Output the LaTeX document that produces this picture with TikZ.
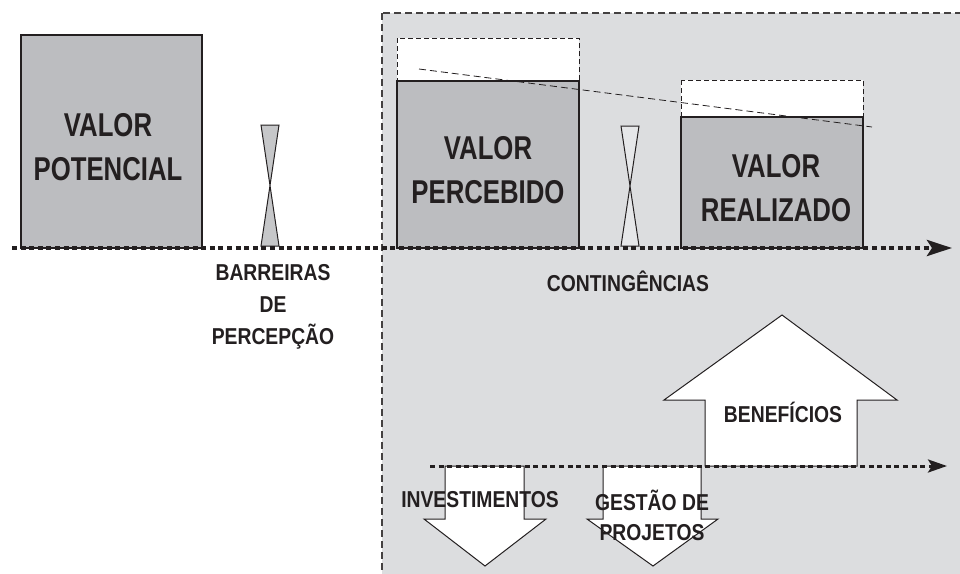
\documentclass[tikz,border=0pt]{standalone}
\usepackage{fontspec}
\setmainfont{Liberation Sans}
\newfontfamily\bigfont[FakeStretch=0.78]{Liberation Sans}
\newfontfamily\lblfont[FakeStretch=0.84]{Liberation Sans}
\usetikzlibrary{arrows.meta,positioning}
\definecolor{inkgray}{HTML}{231F20}
\definecolor{zonegray}{HTML}{DCDDDF}
\definecolor{boxgray}{HTML}{BCBDC0}
\definecolor{barriergray}{HTML}{C6C7C9}

\begin{document}
\begin{tikzpicture}[x=1pt,y=-1pt,
  valuebox/.style={draw=inkgray,line width=1.2pt,fill=boxgray},
  ghostbox/.style={draw=inkgray,line width=1pt,dash pattern=on 5pt off 3pt,fill=white},
  barrier/.style={draw=inkgray,line width=1pt,line join=miter},
  timeline/.style={inkgray,line width=4pt,dash pattern=on 5pt off 3.6pt},
  flowline/.style={inkgray,line width=3pt,dash pattern=on 5pt off 3.6pt},
  bigarrow/.style={draw=inkgray,line width=1pt,fill=white,line join=miter},
  biglabel/.style={font=\bigfont\bfseries\fontsize{33}{44}\selectfont,align=center,text=inkgray,inner sep=0pt},
  smalllabel/.style={font=\lblfont\bfseries\fontsize{23}{32}\selectfont,align=center,text=inkgray,inner sep=0pt}]

\useasboundingbox (0,0) rectangle (960,573);
\clip (0,0) rectangle (960,573);

% contingency zone
\filldraw[fill=zonegray,draw=inkgray!85,line width=1.1pt,dash pattern=on 7pt off 4pt] (382,13) rectangle (975,590);

% value boxes
\filldraw[valuebox] (21,35) rectangle (202,248);
\filldraw[ghostbox] (397,38) rectangle (579,248);
\filldraw[valuebox] (397,81) rectangle (579,248);
\filldraw[ghostbox] (681,80) rectangle (863,248);
\filldraw[valuebox] (681,117) rectangle (863,248);

% loss of value
\coordinate (lossstart) at (419,69);
\coordinate (lossend) at (872,127);
\draw[inkgray,line width=0.8pt,dash pattern=on 7pt off 4pt] (lossstart)--(lossend);

% barriers
\filldraw[barrier,fill=barriergray] (261,125)--(279,125)--(261,246)--(279,246)--cycle;
\filldraw[barrier,fill=zonegray!70!white] (621,126)--(639,126)--(621,246)--(639,246)--cycle;

% main axis
\coordinate (axisstart) at (12,248);
\coordinate (axisend) at (952,248);
\draw[timeline,-{Stealth[length=25pt,width=16pt,inset=5pt]}] (axisstart)--(axisend);

% investment / benefit arrows
\filldraw[bigarrow] (705,466)--(705,400)--(664,400)--(782,315)--(897,400)--(857,400)--(857,466)--cycle;
\filldraw[bigarrow] (445,466)--(445,519)--(424,519)--(485,566)--(546,519)--(524,519)--(524,466)--cycle;
\filldraw[bigarrow] (603,466)--(603,519)--(587,519)--(653,566)--(718,519)--(701,519)--(701,466)--cycle;

\coordinate (flowstart) at (430,466);
\coordinate (flowend) at (947,466);
\draw[flowline,-{Stealth[length=19pt,width=13pt,inset=4pt]}] (flowstart)--(flowend);

% labels
\node[biglabel] (potencial) at (108,147) {VALOR\\POTENCIAL};
\node[biglabel] (percebido) at (488,170) {VALOR\\PERCEBIDO};
\node[biglabel] (realizado) at (776,188) {VALOR\\REALIZADO};
\node[smalllabel] (barreiras) at (273,307) {BARREIRAS\\DE\\PERCEPÇÃO};
\node[smalllabel] (contingencias) at (628,281) {CONTINGÊNCIAS};
\node[smalllabel] (beneficios) at (783,412) {BENEFÍCIOS};
\node[smalllabel] (investimentos) at (480,500) {INVESTIMENTOS};
\node[smalllabel,font=\lblfont\bfseries\fontsize{23}{30}\selectfont] (gestao) at (652,515) {GESTÃO DE\\PROJETOS};

\end{tikzpicture}
\end{document}
